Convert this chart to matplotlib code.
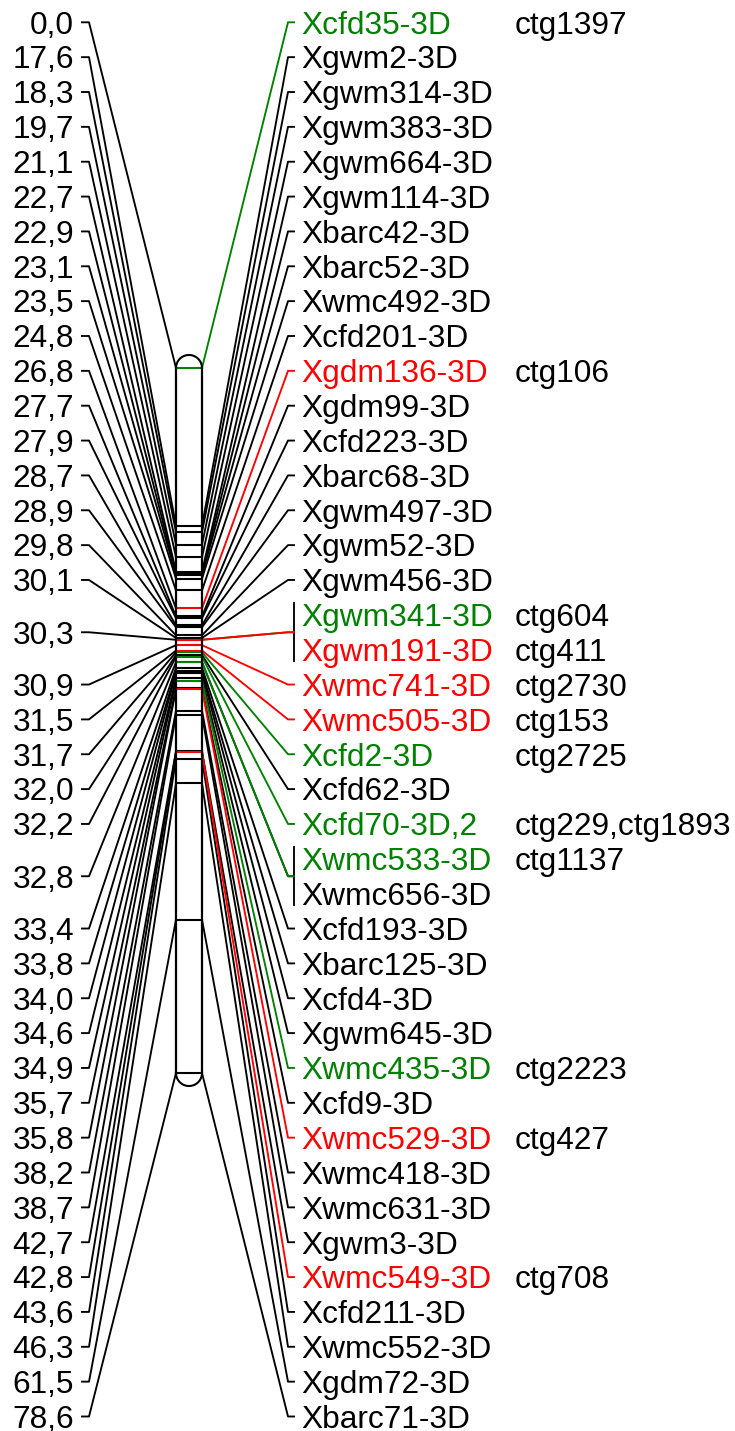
import matplotlib
matplotlib.use("Agg")
import matplotlib.pyplot as plt
import numpy as np

plt.rcParams['font.family'] = ['Liberation Sans', 'DejaVu Sans']

# Chromosome 3D linkage map: markers, map position (cM) and BAC contig hits
marker_names = [
    "Xcfd35-3D", "Xgwm2-3D", "Xgwm314-3D", "Xgwm383-3D", "Xgwm664-3D",
    "Xgwm114-3D", "Xbarc42-3D", "Xbarc52-3D", "Xwmc492-3D", "Xcfd201-3D",
    "Xgdm136-3D", "Xgdm99-3D", "Xcfd223-3D", "Xbarc68-3D", "Xgwm497-3D",
    "Xgwm52-3D", "Xgwm456-3D", "Xgwm341-3D", "Xgwm191-3D", "Xwmc741-3D",
    "Xwmc505-3D", "Xcfd2-3D", "Xcfd62-3D", "Xcfd70-3D,2", "Xwmc533-3D",
    "Xwmc656-3D", "Xcfd193-3D", "Xbarc125-3D", "Xcfd4-3D", "Xgwm645-3D",
    "Xwmc435-3D", "Xcfd9-3D", "Xwmc529-3D", "Xwmc418-3D", "Xwmc631-3D",
    "Xgwm3-3D", "Xwmc549-3D", "Xcfd211-3D", "Xwmc552-3D", "Xgdm72-3D",
    "Xbarc71-3D",
]
marker_cm = [
    0.0, 17.6, 18.3, 19.7, 21.1, 22.7, 22.9, 23.1, 23.5, 24.8,
    26.8, 27.7, 27.9, 28.7, 28.9, 29.8, 30.1, 30.3, 30.3, 30.9,
    31.5, 31.7, 32.0, 32.2, 32.8, 32.8, 33.4, 33.8, 34.0, 34.6,
    34.9, 35.7, 35.8, 38.2, 38.7, 42.7, 42.8, 43.6, 46.3, 61.5,
    78.6,
]
# G = anchored to a contig (green), R = anchored, conflicting (red)
marker_class = [
    "G", "", "", "", "", "", "", "", "", "",
    "R", "", "", "", "", "", "", "G", "R", "R",
    "R", "G", "", "G", "G", "", "", "", "", "",
    "G", "", "R", "", "", "", "R", "", "", "",
    "",
]
marker_contig = [
    "ctg1397", "", "", "", "", "", "", "", "", "",
    "ctg106", "", "", "", "", "", "", "ctg604", "ctg411", "ctg2730",
    "ctg153", "ctg2725", "", "ctg229,ctg1893", "ctg1137", "", "", "", "", "",
    "ctg2223", "", "ctg427", "", "", "", "ctg708", "", "", "",
    "",
]

colors = {"G": "#008000", "R": "#ff0000", "": "black"}

W, H = 735, 1431
fig = plt.figure(figsize=(W / 100, H / 100), dpi=100)
ax = fig.add_axes([0, 0, 1, 1])
ax.set_xlim(0, W)
ax.set_ylim(H, 0)
ax.axis("off")

# layout (pixel units)
chr_l, chr_r = 176, 202
chr_top, chr_bot = 368, 1073
cap_r = (chr_r - chr_l) / 2
lab_top, lab_step = 22.3, 34.855
left_tick = (82, 89)
right_tick = (288, 294)
fs = 22.8
lw = 1.35
cap_off = 0.358 * fs * 100 / 72  # baseline offset so caps sit centred on the tick

scale = (chr_bot - chr_top) / max(marker_cm)


def chrom_y(cm):
    return chr_top + cm * scale


lab_y = [lab_top + i * lab_step for i in range(len(marker_names))]

# group consecutive markers sharing a position
groups = []
for i, cm in enumerate(marker_cm):
    if groups and marker_cm[groups[-1][0]] == cm:
        groups[-1].append(i)
    else:
        groups.append([i])

# chromosome body
ax.add_patch(plt.Rectangle((chr_l, chr_top), chr_r - chr_l, chr_bot - chr_top,
                           facecolor="white", edgecolor="none", zorder=1))
t = np.linspace(0, np.pi, 60)
cx = (chr_l + chr_r) / 2
ax.plot(cx + cap_r * np.cos(t), chr_top - cap_r * np.sin(t), color="black", lw=1.5, zorder=4)
ax.plot(cx + cap_r * np.cos(t), chr_bot + cap_r * np.sin(t), color="black", lw=1.5, zorder=4)
ax.plot([chr_l, chr_l], [chr_top, chr_bot], color="black", lw=1.6, zorder=4)
ax.plot([chr_r, chr_r], [chr_top, chr_bot], color="black", lw=1.6, zorder=4)

# bands on the chromosome
for i, cm in enumerate(marker_cm):
    z = 3 if marker_class[i] else 2
    ax.plot([chr_l, chr_r], [chrom_y(cm)] * 2, color=colors[marker_class[i]], lw=1.5, zorder=z)

# left side: map positions
for g in groups:
    cm = marker_cm[g[0]]
    yl = np.mean([lab_y[i] for i in g])
    yc = chrom_y(cm)
    ax.plot([left_tick[0], left_tick[1], chr_l], [yl, yl, yc], color="black", lw=lw, zorder=2)
    ax.text(74, yl + cap_off, f"{cm:.1f}".replace(".", ","), ha="right", va="baseline",
            fontsize=fs, color="black")

# right side: marker names and contigs
for g in groups:
    cm = marker_cm[g[0]]
    yc = chrom_y(cm)
    yl = np.mean([lab_y[i] for i in g])
    for i in sorted(g, key=lambda k: marker_class[k] != ""):
        c = colors[marker_class[i]]
        z = 3 if marker_class[i] else 2
        ax.plot([chr_r, right_tick[0], right_tick[1]], [yc, yl, yl], color=c, lw=lw, zorder=z)
    if len(g) > 1:
        ax.plot([right_tick[1], right_tick[1]], [lab_y[g[0]] - 12, lab_y[g[-1]] + 11.5],
                color="black", lw=lw, zorder=2)
    for i in g:
        ax.text(301, lab_y[i] + cap_off, marker_names[i], ha="left", va="baseline",
                fontsize=fs, color=colors[marker_class[i]])
        if marker_contig[i]:
            ax.text(515, lab_y[i] + cap_off, marker_contig[i], ha="left", va="baseline",
                    fontsize=fs, color="black")

fig.savefig("out.png", dpi=100, facecolor="white")
